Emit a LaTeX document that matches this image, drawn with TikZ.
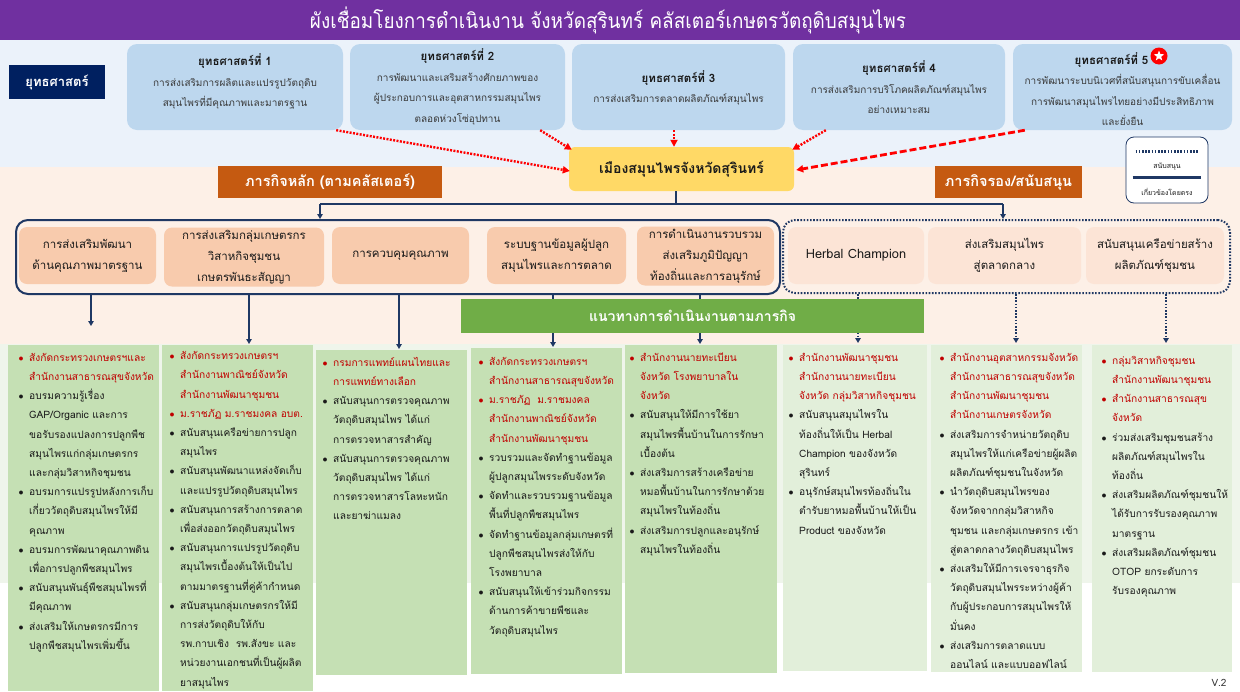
\documentclass[tikz,border=0pt]{standalone}
\usepackage{fontspec}
\setmainfont[Script=Thai]{Loma}
\newfontfamily\condfont[Script=Thai,FakeStretch=0.9]{Loma}
\usetikzlibrary{arrows.meta,shapes.geometric,calc}
\definecolor{ptitle}{HTML}{7030A0}
\definecolor{bgtop}{HTML}{EBF2FA}
\definecolor{bgmid}{HTML}{FDF0E7}
\definecolor{bgcol}{HTML}{EFF5EB}
\definecolor{navyc}{HTML}{002060}
\definecolor{linec}{HTML}{1F3864}
\definecolor{sblue}{HTML}{BDD7EE}
\definecolor{yell}{HTML}{FFD966}
\definecolor{orng}{HTML}{C55A11}
\definecolor{peach}{HTML}{F8CBAD}
\definecolor{lpeach}{HTML}{FCE4D6}
\definecolor{gbar}{HTML}{70AD47}
\definecolor{gcol}{HTML}{C5E0B4}
\definecolor{lgcol}{HTML}{E2EFDA}
\definecolor{tred}{HTML}{C00000}
\definecolor{tdark}{HTML}{1A1A1A}
\definecolor{tgray}{HTML}{3A3A3A}
\definecolor{rarrow}{HTML}{FF0000}
\newcommand\rbul[1]{\rule{0pt}{12pt}\makebox[10.5pt][l]{\textcolor{tred}{$\bullet$}}\textcolor{tred}{#1}}
\newcommand\rcon[1]{\rule{0pt}{12pt}\hspace*{10.5pt}\textcolor{tred}{#1}}
\newcommand\bbul[1]{\rule{0pt}{12pt}\makebox[10.5pt][l]{$\bullet$}#1}
\newcommand\bcon[1]{\rule{0pt}{12pt}\hspace*{10.5pt}#1}
\newcommand\shead[1]{{\bfseries\color{tdark}\fontsize{11.5}{20.5}\selectfont #1}}
\tikzset{
 sbox/.style={fill=sblue, rounded corners=10pt, minimum height=86pt, inner sep=0},
 stext/.style={align=center, text=tgray, font=\fontsize{10}{20.5}\selectfont, inner sep=0},
 mbox/.style={fill=peach, rounded corners=8pt, minimum height=57pt, inner sep=0, align=center, text=tdark, font=\fontsize{11.5}{21}\selectfont},
 hbox/.style={mbox, fill=lpeach},
 hdr/.style={fill=orng, text=white, minimum height=32pt, inner sep=0, font=\bfseries\fontsize{14.5}{16}\selectfont},
 colbox/.style={fill=gcol, anchor=north west, inner sep=0, outer sep=0},
 lcolbox/.style={colbox, fill=lgcol},
 coltext/.style={anchor=north west, align=left, inner sep=0, text=tdark, font=\fontsize{10.2}{19.2}\selectfont},
 navyl/.style={draw=linec, line width=2pt},
 navyd/.style={draw=linec, line width=2pt, dash pattern=on 1.6pt off 1.6pt},
 ntip/.style={-{Triangle[length=5pt,width=5.5pt]}},
 reddot/.style={draw=rarrow, line width=2.4pt, dash pattern=on 2pt off 1.4pt, -{Triangle[length=7pt,width=7pt]}},
 reddash/.style={draw=rarrow, line width=2.8pt, dash pattern=on 7pt off 3pt, -{Triangle[length=7pt,width=7pt]}},
 legtext/.style={font=\fontsize{7}{8}\selectfont, text=tdark, inner sep=0},
}
\begin{document}
\begin{tikzpicture}[x=1pt,y=-1pt]
\useasboundingbox (0,0) rectangle (1240,691);
% backgrounds
\fill[white] (0,0) rectangle (1240,691);
\fill[bgtop] (0,40) rectangle (1240,167);
\fill[bgmid] (0,167) rectangle (1240,344);
\fill[bgcol] (0,344) rectangle (1240,583);
\fill[ptitle] (0,0) rectangle (1240,40);
\node[text=white, font=\condfont\fontsize{21}{24}\selectfont, inner sep=0] (title) at (608,20) {ผังเชื่อมโยงการดำเนินงาน จังหวัดสุรินทร์ คลัสเตอร์เกษตรวัตถุดิบสมุนไพร};
% strategy label
\node[fill=navyc, text=white, font=\bfseries\fontsize{13}{15}\selectfont, minimum width=96pt, minimum height=34pt, inner sep=0] (lab) at (57,82) {ยุทธศาสตร์};
% strategy boxes
\node[sbox, minimum width=216pt] (s1) at (235,87) {};
\node[stext] (s1t) at (235,81.5) {\shead{ยุทธศาสตร์ที่ 1}\\การส่งเสริมการผลิตและแปรรูปวัตถุดิบ\\สมุนไพรที่มีคุณภาพและมาตรฐาน};
\node[sbox, minimum width=215pt] (s2) at (457.5,87) {};
\node[stext] (s2t) at (457.5,87) {\shead{ยุทธศาสตร์ที่ 2}\\การพัฒนาและเสริมสร้างศักยภาพของ\\ผู้ประกอบการและอุตสาหกรรมสมุนไพร\\ตลอดห่วงโซ่อุปทาน};
\node[sbox, minimum width=213pt] (s3) at (678.5,87) {};
\node[stext] (s3t) at (678.5,88) {\shead{ยุทธศาสตร์ที่ 3}\\การส่งเสริมการตลาดผลิตภัณฑ์สมุนไพร};
\node[sbox, minimum width=212pt] (s4) at (899,87) {};
\node[stext] (s4t) at (899,87.5) {\shead{ยุทธศาสตร์ที่ 4}\\การส่งเสริมการบริโภคผลิตภัณฑ์สมุนไพร\\อย่างเหมาะสม};
\node[sbox, minimum width=219pt] (s5) at (1122.5,87) {};
\node[stext] (s5t) at (1122.5,89) {\shead{ยุทธศาสตร์ที่ 5}\hspace*{22pt}\\การพัฒนาระบบนิเวศที่สนับสนุนการขับเคลื่อน\\การพัฒนาสมุนไพรไทยอย่างมีประสิทธิภาพ\\และยั่งยืน};
\node[circle, fill=red, minimum size=17pt, inner sep=0] (starc) at (1159,56) {};
\node[star, star points=5, star point ratio=2.4, fill=white, minimum size=11pt, inner sep=0] (stars) at (starc) {};
% central box
\node[fill=yell, rounded corners=6pt, minimum width=225pt, minimum height=44pt, inner sep=0, font=\bfseries\fontsize{14}{16}\selectfont, text=tdark] (yel) at (681.5,169) {เมืองสมุนไพรจังหวัดสุรินทร์};
% red arrows
\draw[reddot] ($(s1.south east)+(-7,0)$) -- ($(yel.west)+(1,2)$);
\draw[reddot] ($(s2.south east)+(-25,0)$) -- ($(yel.north west)+(3,3)$);
\draw[reddot] ($(s3.south)+(-4.5,0)$) -- ($(yel.north)+(-7.5,0)$);
\draw[reddot] ($(s4.south west)+(33,0)$) -- ($(yel.north east)+(-2,3)$);
\draw[reddash] ($(s5.south west)+(12,0)$) -- ($(yel.east)+(2,1)$);
% legend
\node[draw=linec, line width=0.8pt, fill=white, rounded corners=8pt, minimum width=82pt, minimum height=66pt, inner sep=0] (leg) at (1167,170) {};
\draw[navyd, line width=2.4pt] ($(leg.north west)+(10,15)$) -- ($(leg.north east)+(-10,15)$);
\node[legtext] (legt1) at ($(leg.north)+(0,30)$) {สนับสนุน};
\draw[navyl, line width=2.6pt] ($(leg.north west)+(7,41)$) -- ($(leg.north east)+(-7,41)$);
\node[legtext] (legt2) at ($(leg.north)+(0,55)$) {เกี่ยวข้องโดยตรง};
% headers
\node[hdr, minimum width=224pt] (h1) at (330,182) {ภารกิจหลัก (ตามคลัสเตอร์)};
\node[hdr, minimum width=147pt] (h2) at (1008.5,182) {ภารกิจรอง/สนับสนุน};
% groups
\node[draw=linec, line width=2pt, rounded corners=12pt, minimum width=764pt, minimum height=74pt, inner sep=0] (mg) at (398,257) {};
\node[navyd, rounded corners=12pt, minimum width=447pt, minimum height=73pt, inner sep=0] (sg) at (1006.5,256.5) {};
% connectors from central box
\coordinate (hj) at ($(yel.south)+(-5.5,13)$);
\coordinate (jl) at (320,204);
\coordinate (jr) at (1003,204);
\draw[navyl] ($(yel.south)+(-5.5,0)$) -- (hj);
\draw[navyl] (jl) -- (jr);
\draw[navyl, ntip] (jl) -- (jl |- mg.north);
\draw[navyl, ntip] (jr) -- (jr |- sg.north);
% inner boxes
\node[mbox, minimum width=137pt] (m1) at (87.5,255.5) {การส่งเสริมพัฒนา\\ด้านคุณภาพมาตรฐาน};
\node[mbox, minimum width=160pt, minimum height=59pt] (m2) at (244,257) {การส่งเสริมกลุ่มเกษตรกร\\วิสาหกิจชุมชน\\เกษตรพันธะสัญญา};
\node[mbox, minimum width=137pt] (m3) at (400.5,255.5) {การควบคุมคุณภาพ};
\node[mbox, minimum width=139pt] (m4) at (556.5,255.5) {ระบบฐานข้อมูลผู้ปลูก\\สมุนไพรและการตลาด};
\node[mbox, minimum width=137pt, minimum height=59pt] (m5) at (705.5,256) {การดำเนินงานรวบรวม\\ส่งเสริมภูมิปัญญา\\ท้องถิ่นและการอนุรักษ์};
\node[hbox, minimum width=136pt, font=\fontsize{12.8}{21}\selectfont] (p1) at (856,255.5) {Herbal Champion};
\node[hbox, minimum width=153pt] (p2) at (1004.5,255.5) {ส่งเสริมสมุนไพร\\สู่ตลาดกลาง};
\node[hbox, minimum width=138pt] (p3) at (1155,255.5) {สนับสนุนเครือข่ายสร้าง\\ผลิตภัณฑ์ชุมชน};
% connectors to columns
\coordinate (k1) at (91,326);
\coordinate (k2) at (249,344);
\coordinate (k3) at (399,349);
\coordinate (k4) at (553,347);
\coordinate (k5) at (700,344);
\coordinate (k6) at (858,343);
\coordinate (k7) at (1016,343);
\coordinate (k8) at (1166,343);
\draw[navyl, ntip] (k1 |- mg.south) -- (k1);
\draw[navyl, ntip] (k2 |- mg.south) -- (k2);
\draw[navyl, ntip] (k3 |- mg.south) -- (k3);
\draw[navyl, ntip] (k4 |- mg.south) -- (k4);
\draw[navyl, ntip] (k5 |- mg.south) -- (k5);
\draw[navyd, ntip] (k6 |- sg.south) -- (k6);
\draw[navyd, ntip] (k7 |- sg.south) -- (k7);
\draw[navyd, ntip] (k8 |- sg.south) -- (k8);
% green bar
\node[fill=gbar, text=white, minimum width=463pt, minimum height=34pt, inner sep=0, font=\bfseries\fontsize{14}{16}\selectfont] (gb) at (692.5,316) {แนวทางการดำเนินงานตามภารกิจ};
% columns
\node[colbox, minimum width=151pt, minimum height=346pt] (c1) at (8,345) {};
\node[colbox, minimum width=151pt, minimum height=346pt] (c2) at (162,345) {};
\node[colbox, minimum width=151pt, minimum height=325pt] (c3) at (316,350) {};
\node[colbox, minimum width=151pt, minimum height=326pt] (c4) at (471,348) {};
\node[colbox, minimum width=152pt, minimum height=328pt] (c5) at (625,345) {};
\node[lcolbox, minimum width=144pt, minimum height=326pt] (c6) at (783,345) {};
\node[lcolbox, minimum width=151pt, minimum height=327pt] (c7) at (931,345) {};
\node[lcolbox, minimum width=140pt, minimum height=327pt] (c8) at (1092,345) {};
% column texts
\node[coltext] (t1) at (18.5,349) {%
\rbul{สังกัดกระทรวงเกษตรฯและ}\\
\rcon{สำนักงานสาธารณสุขจังหวัด}\\
\bbul{อบรมความรู้เรื่อง}\\
\bcon{GAP/Organic และการ}\\
\bcon{ขอรับรองแปลงการปลูกพืช}\\
\bcon{สมุนไพรแก่กลุ่มเกษตรกร}\\
\bcon{และกลุ่มวิสาหกิจชุมชน}\\
\bbul{อบรมการแปรรูปหลังการเก็บ}\\
\bcon{เกี่ยววัตถุดิบสมุนไพรให้มี}\\
\bcon{คุณภาพ}\\
\bbul{อบรมการพัฒนาคุณภาพดิน}\\
\bcon{เพื่อการปลูกพืชสมุนไพร}\\
\bbul{สนับสนุนพันธุ์พืชสมุนไพรที่}\\
\bcon{มีคุณภาพ}\\
\bbul{ส่งเสริมให้เกษตรกรมีการ}\\
\bcon{ปลูกพืชสมุนไพรเพิ่มขึ้น}};
\node[coltext] (t2) at (169.5,347.5) {%
\rbul{สังกัดกระทรวงเกษตรฯ}\\
\rcon{สำนักงานพาณิชย์จังหวัด}\\
\rcon{สำนักงานพัฒนาชุมชน}\\
\rbul{ม.ราชภัฏ ม.ราชมงคล อบต.}\\
\bbul{สนับสนุนเครือข่ายการปลูก}\\
\bcon{สมุนไพร}\\
\bbul{สนับสนุนพัฒนาแหล่งจัดเก็บ}\\
\bcon{และแปรรูปวัตถุดิบสมุนไพร}\\
\bbul{สนับสนุนการสร้างการตลาด}\\
\bcon{เพื่อส่งออกวัตถุดิบสมุนไพร}\\
\bbul{สนับสนุนการแปรรูปวัตถุดิบ}\\
\bcon{สมุนไพรเบื้องต้นให้เป็นไป}\\
\bcon{ตามมาตรฐานที่คู่ค้ากำหนด}\\
\bbul{สนับสนุนกลุ่มเกษตรกรให้มี}\\
\bcon{การส่งวัตถุดิบให้กับ}\\
\bcon{รพ.กาบเชิง\ \ รพ.สังขะ และ}\\
\bcon{หน่วยงานเอกชนที่เป็นผู้ผลิต}\\
\bcon{ยาสมุนไพร}};
\node[coltext] (t3) at (322.5,354) {%
\rbul{กรมการแพทย์แผนไทยและ}\\
\rcon{การแพทย์ทางเลือก}\\
\bbul{สนับสนุนการตรวจคุณภาพ}\\
\bcon{วัตถุดิบสมุนไพร ได้แก่}\\
\bcon{การตรวจหาสารสำคัญ}\\
\bbul{สนับสนุนการตรวจคุณภาพ}\\
\bcon{วัตถุดิบสมุนไพร ได้แก่}\\
\bcon{การตรวจหาสารโลหะหนัก}\\
\bcon{และยาฆ่าแมลง}};
\node[coltext] (t4) at (478.5,353) {%
\rbul{สังกัดกระทรวงเกษตรฯ}\\
\rcon{สำนักงานสาธารณสุขจังหวัด}\\
\rbul{ม.ราชภัฏ\ \ ม.ราชมงคล}\\
\rcon{สำนักงานพาณิชย์จังหวัด}\\
\rcon{สำนักงานพัฒนาชุมชน}\\
\bbul{รวบรวมและจัดทำฐานข้อมูล}\\
\bcon{ผู้ปลูกสมุนไพรระดับจังหวัด}\\
\bbul{จัดทำและรวบรวมฐานข้อมูล}\\
\bcon{พื้นที่ปลูกพืชสมุนไพร}\\
\bbul{จัดทำฐานข้อมูลกลุ่มเกษตรที่}\\
\bcon{ปลูกพืชสมุนไพรส่งให้กับ}\\
\bcon{โรงพยาบาล}\\
\bbul{สนับสนุนให้เข้าร่วมกิจกรรม}\\
\bcon{ด้านการค้าขายพืชและ}\\
\bcon{วัตถุดิบสมุนไพร}};
\node[coltext] (t5) at (629.5,349) {%
\rbul{สำนักงานนายทะเบียน}\\
\rcon{จังหวัด โรงพยาบาลใน}\\
\rcon{จังหวัด}\\
\bbul{สนับสนุนให้มีการใช้ยา}\\
\bcon{สมุนไพรพื้นบ้านในการรักษา}\\
\bcon{เบื้องต้น}\\
\bbul{ส่งเสริมการสร้างเครือข่าย}\\
\bcon{หมอพื้นบ้านในการรักษาด้วย}\\
\bcon{สมุนไพรในท้องถิ่น}\\
\bbul{ส่งเสริมการปลูกและอนุรักษ์}\\
\bcon{สมุนไพรในท้องถิ่น}};
\node[coltext] (t6) at (788.5,349) {%
\rbul{สำนักงานพัฒนาชุมชน}\\
\rcon{สำนักงานนายทะเบียน}\\
\rcon{จังหวัด กลุ่มวิสาหกิจชุมชน}\\
\bbul{สนับสนุนสมุนไพรใน}\\
\bcon{ท้องถิ่นให้เป็น Herbal}\\
\bcon{Champion ของจังหวัด}\\
\bcon{สุรินทร์}\\
\bbul{อนุรักษ์สมุนไพรท้องถิ่นใน}\\
\bcon{ตำรับยาหมอพื้นบ้านให้เป็น}\\
\bcon{Product ของจังหวัด}};
\node[coltext] (t7) at (939.5,349) {%
\rbul{สำนักงานอุตสาหกรรมจังหวัด}\\
\rcon{สำนักงานสาธารณสุขจังหวัด}\\
\rcon{สำนักงานพัฒนาชุมชน}\\
\rcon{สำนักงานเกษตรจังหวัด}\\
\bbul{ส่งเสริมการจำหน่ายวัตถุดิบ}\\
\bcon{สมุนไพรให้แก่เครือข่ายผู้ผลิต}\\
\bcon{ผลิตภัณฑ์ชุมชนในจังหวัด}\\
\bbul{นำวัตถุดิบสมุนไพรของ}\\
\bcon{จังหวัดจากกลุ่มวิสาหกิจ}\\
\bcon{ชุมชน และกลุ่มเกษตรกร เข้า}\\
\bcon{สู่ตลาดกลางวัตถุดิบสมุนไพร}\\
\bbul{ส่งเสริมให้มีการเจรจาธุรกิจ}\\
\bcon{วัตถุดิบสมุนไพรระหว่างผู้ค้า}\\
\bcon{กับผู้ประกอบการสมุนไพรให้}\\
\bcon{มั่นคง}\\
\bbul{ส่งเสริมการตลาดแบบ}\\
\bcon{ออนไลน์ และแบบออฟไลน์}};
\node[coltext] (t8) at (1101.5,352) {%
\rbul{กลุ่มวิสาหกิจชุมชน}\\
\rcon{สำนักงานพัฒนาชุมชน}\\
\rbul{สำนักงานสาธารณสุข}\\
\rcon{จังหวัด}\\
\bbul{ร่วมส่งเสริมชุมชนสร้าง}\\
\bcon{ผลิตภัณฑ์สมุนไพรใน}\\
\bcon{ท้องถิ่น}\\
\bbul{ส่งเสริมผลิตภัณฑ์ชุมชนให้}\\
\bcon{ได้รับการรับรองคุณภาพ}\\
\bcon{มาตรฐาน}\\
\bbul{ส่งเสริมผลิตภัณฑ์ชุมชน}\\
\bcon{OTOP ยกระดับการ}\\
\bcon{รับรองคุณภาพ}};
\node[font=\fontsize{10}{12}\selectfont, text=tgray, inner sep=0] (ver) at (1219,683) {V.2};
\end{tikzpicture}
\end{document}
